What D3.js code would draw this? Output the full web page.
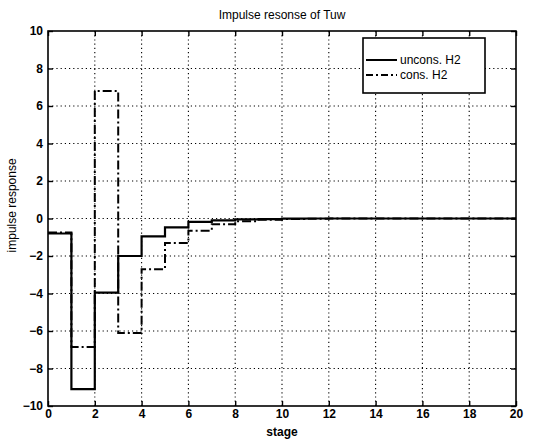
<!DOCTYPE html>
<html lang="en">
<head>
<meta charset="UTF-8">
<title>Impulse resonse of Tuw</title>
<script src="https://cdn.jsdelivr.net/npm/d3@7"></script>
<style>
	body{ margin:0; background:#fff; }
	text{ font-family: "Liberation Sans", Arial, sans-serif; fill:#000; }
	.tick text{ font-size: 12px; font-weight: bold; }
	.grid line{ stroke:#000; stroke-dasharray: 1.2,3; stroke-width: 1.1; }
	.frame{ fill:none; stroke:#000; stroke-width:1.6; }
</style>
</head>
<body>
<div id="main"></div>
<script>
	// stage values (stairs, one value per stage 0..20)
	var stages = d3.range(0, 21);
	var uncons = [-0.8, -9.1, -3.95, -2.0, -0.95, -0.47, -0.18, -0.1, -0.05, -0.03, -0.01, 0, 0, 0, 0, 0, 0, 0, 0, 0, 0];
	var cons   = [-0.75, -6.85, 6.8, -6.1, -2.7, -1.3, -0.65, -0.3, -0.14, -0.07, -0.03, -0.01, 0, 0, 0, 0, 0, 0, 0, 0, 0];
	var xTicks = d3.range(0, 21, 2);
	var yTicks = d3.range(-10, 11, 2);
	var legendLabels = ["uncons. H2", "cons. H2"];

	var width = 536, height = 441,
		margin = {left:48, top:31, right:20, bottom:35};

	var svg = d3.select("#main").append("svg")
		.attr("width", width)
		.attr("height", height);

	var x = d3.scaleLinear().domain([0, 20]).range([margin.left, width - margin.right]);
	var y = d3.scaleLinear().domain([-10, 10]).range([height - margin.bottom, margin.top]);

	// grid
	var grid = svg.append("g").attr("class", "grid");
	grid.selectAll("line.vx").data(xTicks.slice(1, -1)).enter().append("line")
		.attr("x1", d => x(d)).attr("x2", d => x(d))
		.attr("y1", y(-10)).attr("y2", y(10));
	grid.selectAll("line.hy").data(yTicks.slice(1, -1)).enter().append("line")
		.attr("x1", x(0)).attr("x2", x(20))
		.attr("y1", d => y(d)).attr("y2", d => y(d));

	// axes (ticks inward)
	svg.append("g")
		.attr("transform", "translate(0," + y(-10) + ")")
		.call(d3.axisBottom(x).tickValues(xTicks).tickSizeInner(-5).tickSizeOuter(0).tickPadding(3).tickFormat(d3.format("d")));
	svg.append("g")
		.attr("transform", "translate(" + x(0) + ",0)")
		.call(d3.axisLeft(y).tickValues(yTicks).tickSizeInner(-5).tickSizeOuter(0).tickPadding(5)
			.tickFormat(d => d < 0 ? "\u2212" + Math.abs(d) : d));
	svg.selectAll(".domain").remove();
	svg.selectAll(".tick line").attr("stroke", "#000").attr("stroke-width", 1.4);
	// top/right ticks
	svg.append("g").attr("transform", "translate(0," + y(10) + ")")
		.call(d3.axisTop(x).tickValues(xTicks).tickSizeInner(-5).tickSizeOuter(0).tickFormat(""))
		.call(g => g.select(".domain").remove())
		.selectAll("line").attr("stroke-width", 1.4);
	svg.append("g").attr("transform", "translate(" + x(20) + ",0)")
		.call(d3.axisRight(y).tickValues(yTicks).tickSizeInner(-5).tickSizeOuter(0).tickFormat(""))
		.call(g => g.select(".domain").remove())
		.selectAll("line").attr("stroke-width", 1.4);

	svg.append("rect").attr("class", "frame")
		.attr("x", x(0)).attr("y", y(10))
		.attr("width", x(20) - x(0)).attr("height", y(-10) - y(10));

	// stairs
	var line = d3.line().curve(d3.curveStepAfter)
		.x(d => x(d[0])).y(d => y(d[1]));
	function stairs(vals){
		return stages.map((s, i) => [s, vals[i]]);
	}
	svg.append("path").datum(stairs(cons))
		.attr("d", line).attr("fill", "none").attr("stroke", "#000")
		.attr("stroke-width", 2).attr("stroke-dasharray", "9,3,2,3");
	svg.append("path").datum(stairs(uncons))
		.attr("d", line).attr("fill", "none").attr("stroke", "#000")
		.attr("stroke-width", 2.2);

	// title and labels
	svg.append("text").attr("x", (x(0) + x(20)) / 2).attr("y", 19)
		.attr("text-anchor", "middle").style("font-size", "12px").text("Impulse resonse of Tuw");
	svg.append("text").attr("x", (x(0) + x(20)) / 2).attr("y", 436)
		.attr("text-anchor", "middle").style("font-size", "12px").style("font-weight", "bold").text("stage");
	svg.append("text").attr("transform", "translate(16," + y(0.7) + ") rotate(-90)")
		.attr("text-anchor", "middle").style("font-size", "12px").text("impulse response");

	// legend
	var lg = svg.append("g").attr("transform", "translate(363,38)");
	lg.append("rect").attr("width", 122).attr("height", 55)
		.attr("fill", "#fff").attr("stroke", "#000").attr("stroke-width", 1.6);
	var styles = [null, "7,3,2,3"];
	legendLabels.forEach(function(l, i){
		var yy = 22 + i * 15;
		lg.append("line").attr("x1", 3).attr("x2", 34).attr("y1", yy).attr("y2", yy)
			.attr("stroke", "#000").attr("stroke-width", 2)
			.attr("stroke-dasharray", styles[i]);
		lg.append("text").attr("x", 37).attr("y", yy + 4)
			.style("font-size", "12px").text(l);
	});
</script>
</body>
</html>
